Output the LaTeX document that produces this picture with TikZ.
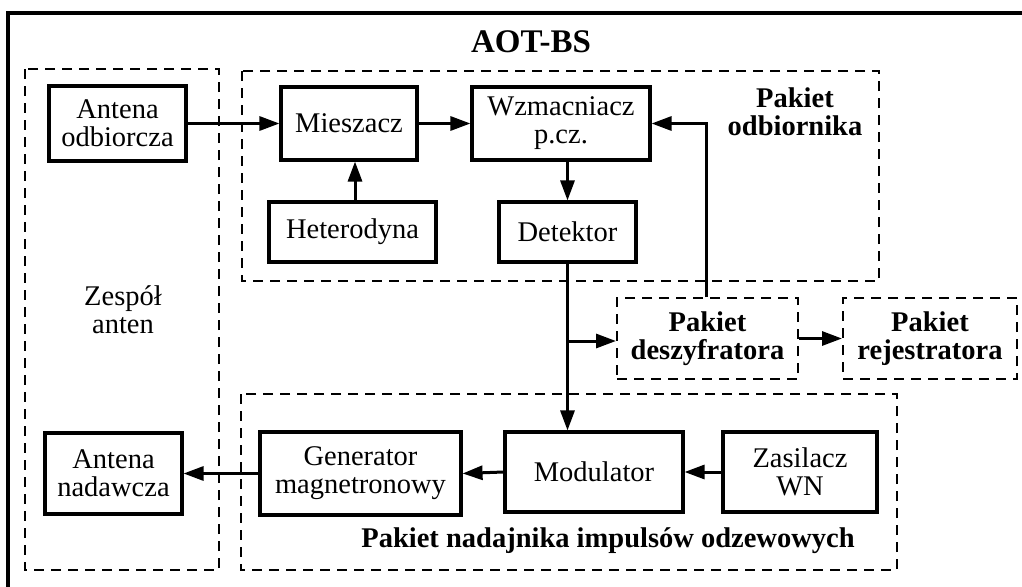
\documentclass[tikz,border=0pt]{standalone}
\usepackage{fontspec}
\setmainfont{Liberation Serif}
\usetikzlibrary{arrows.meta}
\begin{document}
\begin{tikzpicture}[x=1pt,y=-1pt,
  every node/.style={font=\fontsize{28.5}{28}\selectfont, align=center, inner sep=0pt},
  block/.style={draw, line width=3.1pt, minimum width=#1},
  packet/.style={draw, line width=2pt, dash pattern=on 10pt off 7pt, minimum width=#1, font=\fontsize{28.5}{28}\selectfont\bfseries},
  group/.style={draw, line width=2pt, dash pattern=on 10pt off 7pt},
  conn/.style={line width=3pt, -{Triangle[length=20pt,width=14pt]}}]
\useasboundingbox (0,0) rectangle (1022,586);
% outer frame, running off the page on the right and bottom
\draw[line width=3.2pt] (1040,600) |- (8,13) |- (1040,600);

% groups
\draw[group] (25,69) rectangle (219,570);
\draw[group] (242,71) rectangle (879,281);
\draw[group] (241,394) rectangle (897,570);

% title and group labels
\node[font=\fontsize{33}{33}\selectfont\bfseries] (title) at (531,42) {AOT-BS};
\node (zesp) at (123,310) {Zespół\\anten};
\node[font=\fontsize{28.5}{28}\selectfont\bfseries] (lodb) at (795,112) {Pakiet\\odbiornika};
\node[font=\fontsize{28.5}{28}\selectfont\bfseries] (lnad) at (608,541) {Pakiet nadajnika impulsów odzewowych};

% blocks
\node[block=137pt, minimum height=75pt] (aodb) at (117.5,123.5) {Antena\\odbiorcza};
\node[block=136pt, minimum height=73pt] (mies) at (349,123.5) {Mieszacz};
\node[block=178pt, minimum height=73pt] (wzm) at (561,123.5) {Wzmacniacz\\p.cz.};
\node[block=167pt, minimum height=60pt] (het) at (352.5,232) {Heterodyna};
\node[block=137pt, minimum height=60pt] (det) at (567.5,232) {Detektor};
\node[packet=181pt, minimum height=81pt] (desz) at (707.5,338.5) {Pakiet\\deszyfratora};
\node[packet=174pt, minimum height=81pt] (rej) at (930,338.5) {Pakiet\\rejestratora};
\node[block=137pt, minimum height=81pt] (anad) at (113.5,473.5) {Antena\\nadawcza};
\node[block=201pt, minimum height=83pt] (gen) at (360.5,473.5) {Generator\\magnetronowy};
\node[block=178pt, minimum height=80pt] (mod) at (594,472) {Modulator};
\node[block=154pt, minimum height=80pt] (zas) at (800,472) {Zasilacz\\WN};

% connectors
\draw[conn] (aodb.east) -- (mies.west);
\draw[conn] (mies.east) -- (wzm.west);
\draw[conn] ([xshift=2.5pt]het.north) -- ([xshift=2.5pt]het.north |- mies.south);
\draw[conn] (det.north |- wzm.south) -- (det.north);
\draw[conn] (det.south) -- (det.south |- mod.north);
\coordinate (branch) at ([yshift=-2.5pt]det.south |- desz.west);
\draw[conn] (branch) -- (branch -| desz.west);
\draw[conn] ([xshift=-1.5pt]desz.north) |- (wzm.east);
\draw[conn] (desz.east) -- (rej.west);
\draw[conn] (zas.west) -- (mod.east);
\draw[conn] (mod.west) -- (gen.east);
\draw[conn] (gen.west) -- (anad.east);
\end{tikzpicture}
\end{document}
